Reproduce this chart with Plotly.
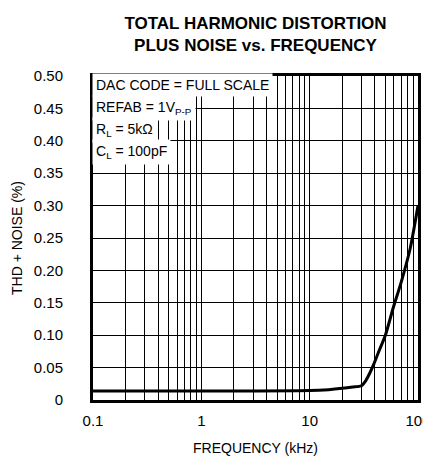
import plotly.graph_objects as go

# frequency (kHz) and THD+N (%)
freq_khz = [0.1, 0.3, 1, 3, 10, 15, 20, 25, 30, 33, 36, 39, 43, 50, 59, 70, 85, 100]
thd_pct = [0.014, 0.014, 0.014, 0.014, 0.0145, 0.016, 0.018, 0.020, 0.022, 0.030, 0.042, 0.055, 0.073, 0.100, 0.142, 0.182, 0.235, 0.300]

x_ticks = [0.1, 1, 10, 100]
x_labels = ["0.1", "1", "10", "100"]
x_minor = [m * 10 ** e for e in (-1, 0, 1) for m in range(2, 10)]
y_ticks = [0, 0.05, 0.10, 0.15, 0.20, 0.25, 0.30, 0.35, 0.40, 0.45, 0.50]
y_labels = ["0", "0.05", "0.10", "0.15", "0.20", "0.25", "0.30", "0.35", "0.40", "0.45", "0.50"]

notes = ["DAC CODE = FULL SCALE", "REFAB = 1V<sub>P-P</sub>", "R<sub>L</sub> = 5kΩ", "C<sub>L</sub> = 100pF"]

FONT = "Liberation Sans, Arial, sans-serif"

fig = go.Figure()
fig.add_trace(go.Scatter(x=freq_khz, y=thd_pct, mode="lines",
                         line=dict(color="black", width=3, shape="spline", smoothing=0.6),
                         hoverinfo="skip", showlegend=False))

# page body adds an 8px margin, so the figure is 8px smaller than the window
fig.update_layout(
    width=423, height=448,
    margin=dict(l=85, r=13, t=68, b=56, autoexpand=False),
    paper_bgcolor="white", plot_bgcolor="white",
    font=dict(family=FONT, size=15, color="black"),
    title=dict(text="<b>TOTAL HARMONIC DISTORTION<br>PLUS NOISE vs. FREQUENCY</b>",
               xref="paper", x=0.5, xanchor="center", y=0.954, yanchor="top",
               font=dict(family=FONT, size=17, color="black")),
    showlegend=False,
)
fig.update_xaxes(type="log", range=[-1, 2], tickvals=x_ticks, ticktext=x_labels,
                 showgrid=True, gridcolor="black", gridwidth=1,
                 minor=dict(tickvals=x_minor, showgrid=True, gridcolor="black", gridwidth=1, ticks=""),
                 showline=True, linecolor="black", linewidth=3, mirror=True,
                 ticks="", zeroline=False, ticklabelstandoff=5, automargin=False)
fig.update_yaxes(range=[0, 0.5], tickvals=y_ticks, ticktext=y_labels,
                 showgrid=True, gridcolor="black", gridwidth=1,
                 showline=True, linecolor="black", linewidth=3, mirror=True,
                 ticks="", zeroline=False, ticklabelstandoff=24, automargin=False)

# axis titles
fig.add_annotation(text="FREQUENCY (kHz)", xref="paper", yref="paper", x=0.5, y=0, yanchor="middle",
                   yshift=-48, showarrow=False, font=dict(family=FONT, size=14, color="black"))
fig.add_annotation(text="THD + NOISE (%)", xref="paper", yref="paper", x=0, y=0.5, xanchor="center",
                   xshift=-76, textangle=-90, showarrow=False, font=dict(family=FONT, size=14, color="black"))

for i, t in enumerate(notes):
    fig.add_annotation(text=t, xref="paper", yref="paper", x=0, y=1, xanchor="left", yanchor="top",
                       xshift=-1, yshift=3 - 22 * i, showarrow=False, align="left",
                       bgcolor="white", borderpad=3, font=dict(family=FONT, size=14, color="black"))

fig.add_annotation(text="MAX5251-02", xref="paper", yref="paper", x=1, y=1, xanchor="left", yanchor="top",
                   xshift=4, yshift=3, textangle=-90, showarrow=False,
                   font=dict(family=FONT, size=7, color="black"))

fig.write_html("out.html")
